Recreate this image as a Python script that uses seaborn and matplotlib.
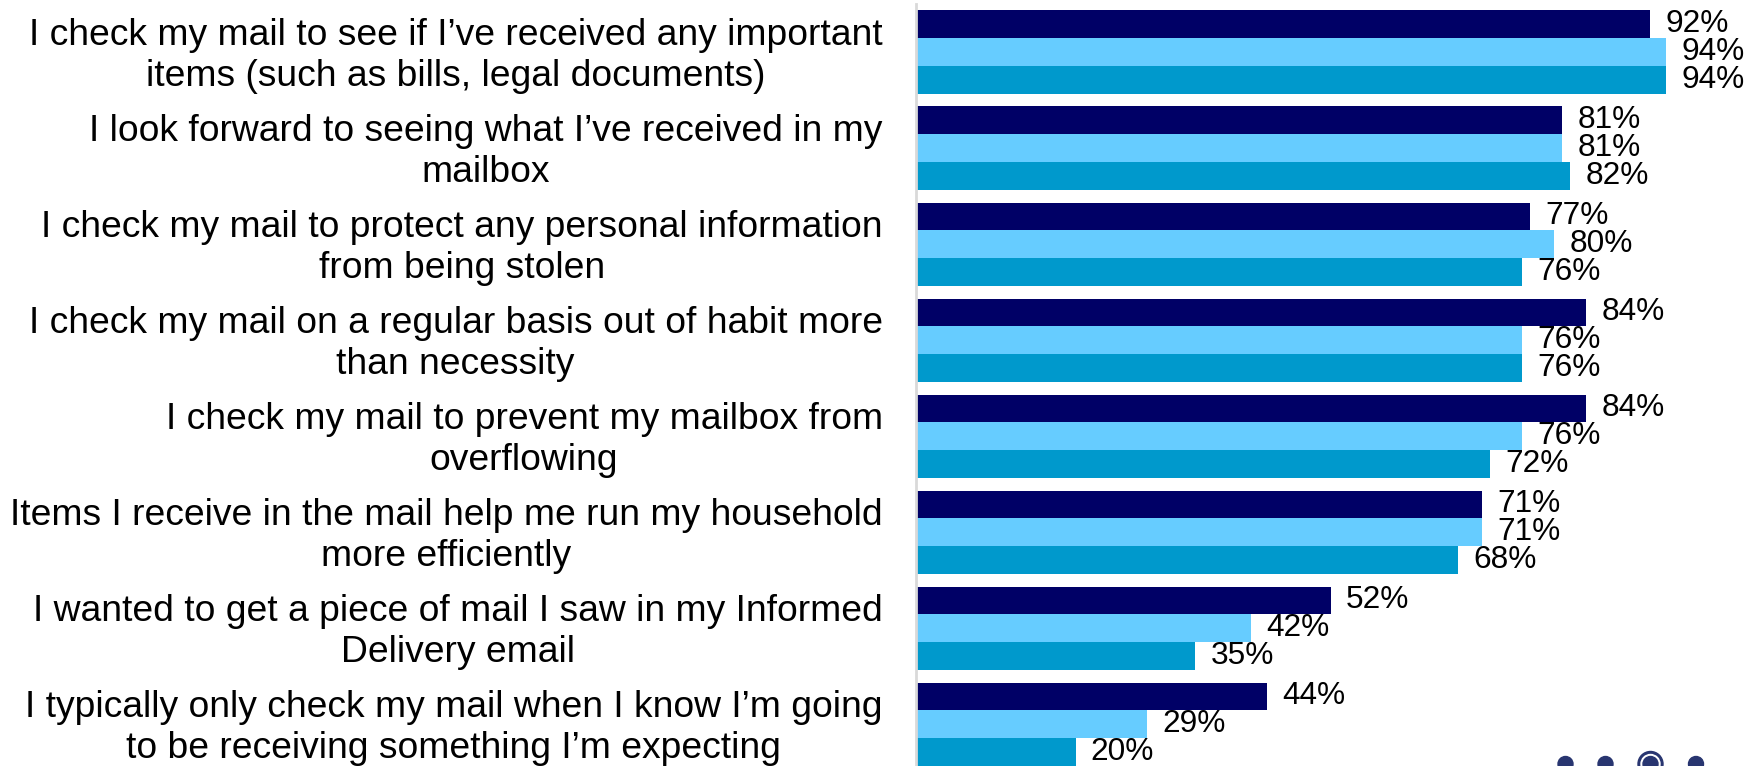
import matplotlib
matplotlib.use("Agg")
import matplotlib.pyplot as plt
import matplotlib.transforms as mtransforms
from matplotlib.patches import Circle
import pandas as pd
import seaborn as sns

# Survey statements (one per bar group, top to bottom)
statements = [
    "I check my mail to see if I\u2019ve received any important\nitems (such as bills, legal documents)",
    "I look forward to seeing what I\u2019ve received in my\nmailbox",
    "I check my mail to protect any personal information\nfrom being stolen",
    "I check my mail on a regular basis out of habit more\nthan necessity",
    "I check my mail to prevent my mailbox from\noverflowing",
    "Items I receive in the mail help me run my household\nmore efficiently",
    "I wanted to get a piece of mail I saw in my Informed\nDelivery email",
    "I typically only check my mail when I know I\u2019m going\nto be receiving something I\u2019m expecting",
]

# Share of respondents agreeing, per respondent group (percent)
groups = ["Group A", "Group B", "Group C"]
group_a = [92, 81, 77, 84, 84, 71, 52, 44]
group_b = [94, 81, 80, 76, 76, 71, 42, 29]
group_c = [94, 82, 76, 76, 72, 68, 35, 20]

colors = ["#000066", "#66CCFF", "#0099CC"]

df = pd.DataFrame({
    "statement": statements * 3,
    "group": [groups[0]] * 8 + [groups[1]] * 8 + [groups[2]] * 8,
    "value": group_a + group_b + group_c,
})

sns.set_theme(style="white")
plt.rcParams["font.family"] = ["Liberation Sans", "DejaVu Sans"]

W, H = 1747, 766
fig = plt.figure(figsize=(W / 100, H / 100), dpi=100)
ax = fig.add_axes([916 / W, 0, (1713.6 - 916) / W, 762 / H])

sns.barplot(
    data=df, x="value", y="statement", hue="group",
    order=statements, hue_order=groups, palette=colors,
    orient="h", width=0.865, errorbar=None, legend=False,
    saturation=1, linewidth=0, ax=ax,
)

ax.set_xlim(0, 100)
ax.set_ylim(7.436, -0.5)
ax.set_xlabel("")
ax.set_ylabel("")
ax.set_xticks([])

for container in ax.containers:
    ax.bar_label(container, fmt="%d%%", padding=11, fontsize=22.8,
                 color="#000000", clip_on=False)

ax.tick_params(axis="y", length=0, pad=24)
ax.set_yticks(range(len(statements)))
ax.set_yticklabels(statements, fontsize=26.8, color="#000000")
shift = mtransforms.ScaledTranslation(0, 3 / 100, fig.dpi_scale_trans)
for lbl in ax.get_yticklabels():
    lbl.set_multialignment("center")
    lbl.set_linespacing(1.23)
    lbl.set_transform(lbl.get_transform() + shift)

for side in ["top", "right", "bottom"]:
    ax.spines[side].set_visible(False)
ax.spines["left"].set_color("#d9d9d9")
ax.spines["left"].set_linewidth(2)

# Page-indicator dots in the lower right corner
dot_color = "#283570"
to_fig = mtransforms.Affine2D().scale(1 / W, 1 / H) + fig.transFigure
for cx in (1565.5, 1605.5, 1696):
    fig.patches.append(Circle((cx, 2), 7.5, color=dot_color, transform=to_fig))
fig.patches.append(Circle((1650.5, 2), 12.5, color=dot_color, transform=to_fig))
fig.patches.append(Circle((1650.5, 2), 9.5, color="white", transform=to_fig))
fig.patches.append(Circle((1650.5, 2), 7.5, color=dot_color, transform=to_fig))

fig.savefig("out.png", dpi=100)
